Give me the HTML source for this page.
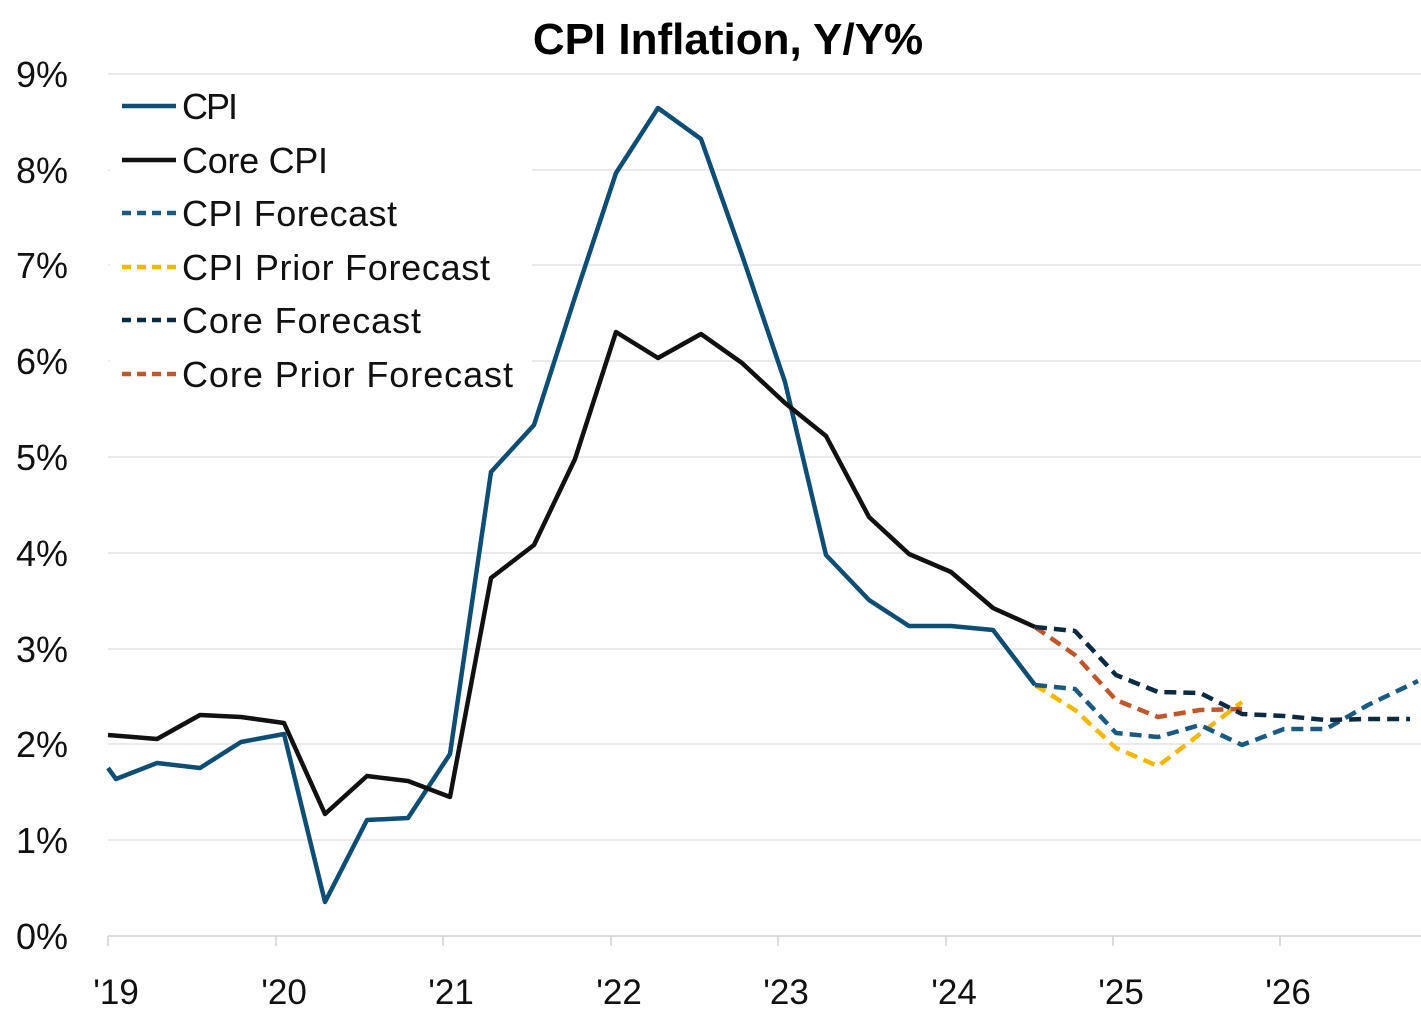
<!DOCTYPE html>
<html><head><meta charset="utf-8"><style>
body{margin:0;background:#fff}
svg{display:block;font-family:"Liberation Sans",sans-serif}
</style></head><body>
<svg width="1421" height="1030" viewBox="0 0 1421 1030">
<rect width="1421" height="1030" fill="#fff"/>
<g stroke="#e3e3e3" stroke-width="1.5">
<line x1="108" x2="1421" y1="74" y2="74"/><line x1="108" x2="1421" y1="170" y2="170"/>
<line x1="108" x2="1421" y1="265" y2="265"/><line x1="108" x2="1421" y1="361" y2="361"/>
<line x1="108" x2="1421" y1="457" y2="457"/><line x1="108" x2="1421" y1="553" y2="553"/>
<line x1="108" x2="1421" y1="649" y2="649"/><line x1="108" x2="1421" y1="744" y2="744"/>
<line x1="108" x2="1421" y1="840" y2="840"/>
</g>
<rect x="110" y="82" width="422" height="313" fill="#fff"/>
<line x1="108" x2="1421" y1="936" y2="936" stroke="#d0d0d0" stroke-width="1.5"/>
<g stroke="#d0d0d0" stroke-width="1.5">
<line x1="108" x2="108" y1="936" y2="946"/><line x1="276" x2="276" y1="936" y2="946"/>
<line x1="443" x2="443" y1="936" y2="946"/><line x1="611" x2="611" y1="936" y2="946"/>
<line x1="778" x2="778" y1="936" y2="946"/><line x1="946" x2="946" y1="936" y2="946"/>
<line x1="1113" x2="1113" y1="936" y2="946"/><line x1="1280" x2="1280" y1="936" y2="946"/>
</g>
<g font-size="36" fill="#111" text-anchor="end">
<text x="68" y="87">9%</text><text x="68" y="183">8%</text><text x="68" y="278">7%</text>
<text x="68" y="374">6%</text><text x="68" y="470">5%</text><text x="68" y="566">4%</text>
<text x="68" y="662">3%</text><text x="68" y="757">2%</text><text x="68" y="853">1%</text>
<text x="68" y="949">0%</text>
</g>
<g font-size="35" fill="#111" text-anchor="middle">
<text x="116" y="1004">'19</text><text x="284" y="1004">'20</text><text x="451" y="1004">'21</text>
<text x="619" y="1004">'22</text><text x="786" y="1004">'23</text><text x="954" y="1004">'24</text>
<text x="1121" y="1004">'25</text><text x="1288" y="1004">'26</text>
</g>
<text x="728" y="54" font-size="44" font-weight="bold" text-anchor="middle" fill="#000">CPI Inflation, Y/Y%</text>
<g fill="none" stroke-width="4.5" stroke-linejoin="round">
<polyline stroke="#0e4d74" points="108,768 116,779 157,763 200,768 241,742 284,734 325,902 367,820 408,818 450,754 491,472 534,425 575,297 616,173 658,108 701,139 742,255 785,382 826,555 869,600 909,626 951,626 993,630 1035,685"/>
<polyline stroke="#111" points="108,735 157,739 200,715 241,717 284,723 325,814 367,776 408,781 450,797 491,578 534,545 575,459 616,332 658,358 701,334 742,363 785,403 826,436 869,517 909,554 951,572 993,608 1035,627"/>
<g stroke-dasharray="12,7">
<polyline stroke="#f5b800" points="1035,685 1075,710 1116,748 1158,766 1200,734 1242,702"/>
<polyline stroke="#1a5a80" points="1035,685 1075,689 1116,733 1158,737 1200,725 1242,745 1284,729 1326,729 1368,705 1418,681"/>
<polyline stroke="#c0562a" points="1035,627 1075,655 1116,700 1158,717 1200,710 1242,709"/>
<polyline stroke="#0d2b40" points="1035,627 1075,631 1116,675 1158,692 1200,693 1242,714 1284,716 1326,720 1368,719 1410,719"/>
</g>
</g>
<g stroke-width="4.5">
<line x1="122" x2="176" y1="106" y2="106" stroke="#0e4d74"/>
<line x1="122" x2="176" y1="160" y2="160" stroke="#111"/>
<line x1="122" x2="176" y1="213" y2="213" stroke="#1a5a80" stroke-dasharray="9,6"/>
<line x1="122" x2="176" y1="267" y2="267" stroke="#f5b800" stroke-dasharray="9,6"/>
<line x1="122" x2="176" y1="320" y2="320" stroke="#0d2b40" stroke-dasharray="9,6"/>
<line x1="122" x2="176" y1="374" y2="374" stroke="#c0562a" stroke-dasharray="9,6"/>
</g>
<g font-size="36" fill="#111">
<text x="182" y="119" textLength="56">CPI</text><text x="182" y="173" textLength="146">Core CPI</text>
<text x="182" y="226" textLength="215">CPI Forecast</text><text x="182" y="280" textLength="308">CPI Prior Forecast</text>
<text x="182" y="333" textLength="239">Core Forecast</text><text x="182" y="387" textLength="331">Core Prior Forecast</text>
</g>
</svg>
</body></html>
